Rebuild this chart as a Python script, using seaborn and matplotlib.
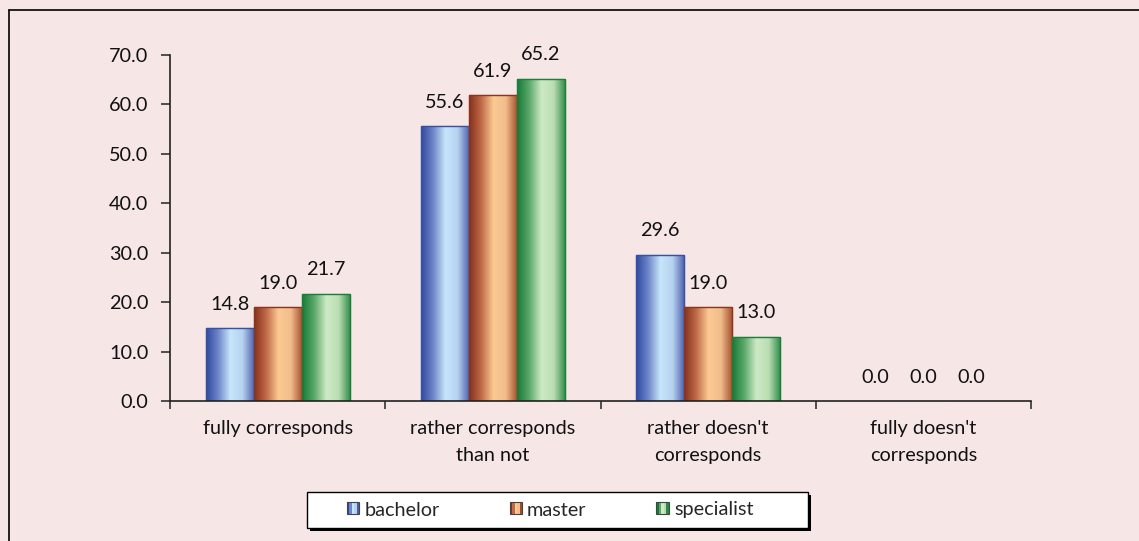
import numpy as np
import pandas as pd
import matplotlib
matplotlib.use("Agg")
import matplotlib.pyplot as plt
import seaborn as sns
from matplotlib.colors import LinearSegmentedColormap
from matplotlib.lines import Line2D
from matplotlib.patches import Rectangle
from matplotlib.legend_handler import HandlerBase

categories = ["fully corresponds", "rather corresponds\nthan not",
              "rather doesn't\ncorresponds", "fully doesn't\ncorresponds"]
series = ["bachelor", "master", "specialist"]
bachelor = [14.8, 55.6, 29.6, 0.0]
master = [19.0, 61.9, 19.0, 0.0]
specialist = [21.7, 65.2, 13.0, 0.0]
y_ticks = [0, 10, 20, 30, 40, 50, 60, 70]

# edge, highlight, far-edge colours of the cylinder-like shading
shades = {
    "bachelor": ["#2E48A0", "#6F86C8", "#C6E6FA", "#B6D2F0", "#4A5DAA"],
    "master": ["#85301A", "#C06A48", "#FBC992", "#F2BE8C", "#A24C2A"],
    "specialist": ["#157A36", "#5CA86A", "#CDE9C6", "#BCDDB4", "#2A8A44"],
}
edges = {"bachelor": "#3A50A0", "master": "#8A3520", "specialist": "#1C7E3A"}

W, H = 1139, 541
FS = 14.3
bg = "#F6E6E6"
sns.set_theme(style="white")
plt.rcParams["font.family"] = ["Lato", "DejaVu Sans"]
plt.rcParams["font.size"] = FS

df = pd.DataFrame({
    "category": np.repeat(categories, 3),
    "level": series * len(categories),
    "value": np.ravel(np.column_stack([bachelor, master, specialist])),
})

fig = plt.figure(figsize=(W / 100, H / 100), dpi=100, facecolor=bg)
ax = fig.add_axes([170 / W, 1 - 401 / H, (1031 - 170) / W, (401 - 55) / H])
ax.set_facecolor(bg)

mids = [shades[s][2] for s in series]
sns.barplot(data=df, x="category", y="value", hue="level", order=categories,
            hue_order=series, palette=mids, width=0.67, ax=ax, legend=False,
            saturation=1)

ax.set_ylim(0, 70)
ax.set_xlim(-0.5, len(categories) - 0.5)

# shade each bar with a horizontal gradient clipped to its rectangle
for container, name in zip(ax.containers, series):
    cmap = LinearSegmentedColormap.from_list(name, shades[name])
    grad = np.linspace(0, 1, 256).reshape(1, -1)
    for bar, val in zip(container.patches, container.datavalues):
        x, y = bar.get_x(), bar.get_y()
        w, h = bar.get_width(), bar.get_height()
        bar.set_edgecolor(edges[name])
        bar.set_linewidth(0.8)
        if h > 0:
            im = ax.imshow(grad, cmap=cmap, extent=[x, x + w, y, y + h],
                           aspect="auto", zorder=bar.get_zorder() + 0.1,
                           interpolation="bilinear")
            im.set_clip_path(bar)
            outline = Rectangle((x, y), w, h, fill=False, edgecolor=edges[name],
                                linewidth=1.0, zorder=bar.get_zorder() + 0.2)
            ax.add_patch(outline)
        ax.annotate(f"{val:.1f}", (x + w / 2, h), xytext=(0, 11),
                    textcoords="offset points", ha="center", va="bottom",
                    fontsize=FS, color="#111111")

ax.set_xlim(-0.5, len(categories) - 0.5)
ax.set_ylim(0, 70)
ax.set_yticks(y_ticks)
ax.set_yticklabels([f"{v:.1f}" for v in y_ticks], fontsize=FS, color="#111111")
ax.set_xticks(range(len(categories)))
ax.set_xticklabels(categories, fontsize=FS, color="#111111", linespacing=1.65)
ax.tick_params(axis="x", length=0, pad=14)
ax.tick_params(axis="y", left=True, length=6.5, width=1.2, color="#333333", pad=9)
# separators between categories on the x axis
ax.set_xticks(np.arange(-0.5, len(categories)), minor=True)
ax.tick_params(axis="x", which="minor", bottom=True, length=6, width=1.2,
               color="#333333", direction="out")
ax.set_xlabel("")
ax.set_ylabel("")
for side in ["top", "right"]:
    ax.spines[side].set_visible(False)
for side in ["left", "bottom"]:
    ax.spines[side].set_color("#222222")
    ax.spines[side].set_linewidth(1.2)


class Key:
    def __init__(self, cols):
        self.cols = cols


class KeyHandler(HandlerBase):
    def create_artists(self, legend, orig_handle, xd, yd, width, height, fontsize, trans):
        cols = orig_handle.cols
        n = len(cols)
        size = height * 1.05
        x0 = xd + width - size
        arts = [Rectangle((x0 + i * size / n, -yd), size / n, size,
                          facecolor=c, edgecolor="none", transform=trans)
                for i, c in enumerate(cols)]
        arts.append(Rectangle((x0, -yd), size, size, fill=False,
                              edgecolor="#444444", linewidth=0.8, transform=trans))
        return arts


keys = [Key(shades[s]) for s in series]

# legend box with a solid drop shadow
fig.add_artist(Rectangle((310 / W, 1 - 531 / H), 501 / W, 36 / H,
                         transform=fig.transFigure, facecolor="black",
                         edgecolor="none", zorder=4))
fig.add_artist(Rectangle((307 / W, 1 - 528 / H), 501 / W, 36 / H,
                         transform=fig.transFigure, facecolor="white",
                         edgecolor="black", linewidth=1.0, zorder=4.1))

leg = fig.legend(keys, series, handler_map={Key: KeyHandler()},
                 loc="center", bbox_to_anchor=(551 / W, 1 - 510 / H),
                 ncol=3, frameon=False, fontsize=FS,
                 handlelength=0.55, handleheight=0.55, handletextpad=0.25,
                 columnspacing=3.6, borderpad=0.2)
leg.set_zorder(5)

# outer frame lines
fig.add_artist(Line2D([9 / W, 1.0], [1 - 10 / H, 1 - 10 / H],
                      transform=fig.transFigure, color="black", linewidth=1.2))
fig.add_artist(Line2D([9 / W, 9 / W], [0.0, 1 - 10 / H],
                      transform=fig.transFigure, color="black", linewidth=1.2))

fig.savefig("out.png", dpi=100, facecolor=bg)
